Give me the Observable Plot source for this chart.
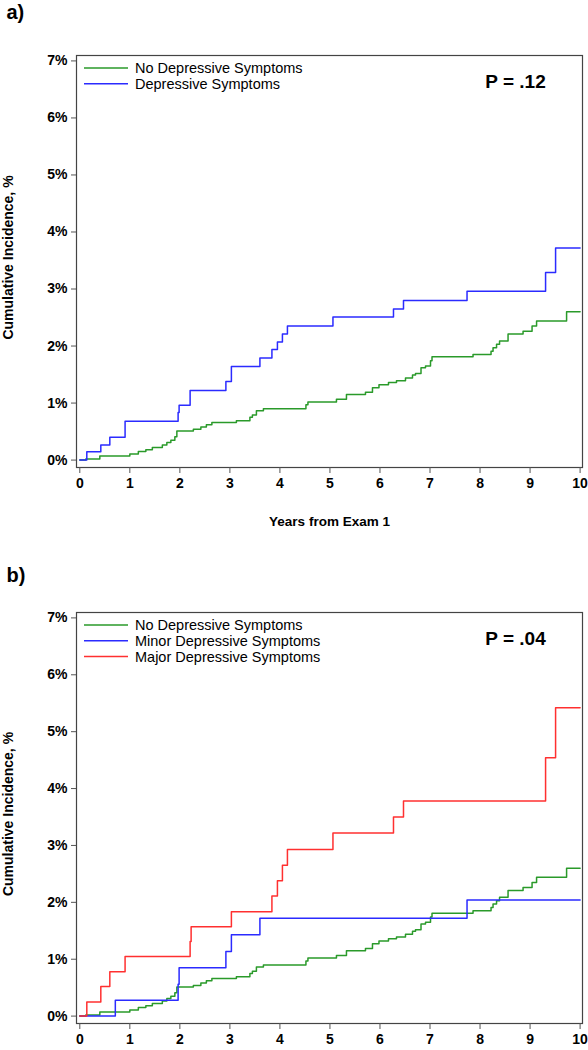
<!DOCTYPE html>
<html><head><meta charset="utf-8">
<script src="https://cdn.jsdelivr.net/npm/d3@7"></script>
<script src="https://cdn.jsdelivr.net/npm/@observablehq/plot@0.6"></script>
<style>
body{margin:0;background:#fff;}
svg{display:block;}
</style>
</head><body><div id="chart"></div>
<script>
// ---- data ----
const yearTicks = [0,1,2,3,4,5,6,7,8,9,10];
const pctTicks = [0,1,2,3,4,5,6,7];

// No depressive symptoms (same in both panels)
const noDepT = [0,0.12,0.40,1.0,1.17,1.32,1.45,1.65,1.74,1.82,1.9,1.94,2.27,2.42,2.53,2.64,3.13,3.4,3.45,3.53,3.67,4.52,4.56,5.13,5.33,5.71,5.85,5.98,6.17,6.33,6.51,6.65,6.71,6.82,6.91,7.01,7.04,7.86,8.22,8.26,8.33,8.39,8.56,8.86,9.04,9.13,9.73,10.0];
const noDepV = [0,0.02,0.07,0.106,0.15,0.18,0.22,0.265,0.31,0.35,0.41,0.51,0.54,0.58,0.62,0.66,0.69,0.75,0.79,0.865,0.9,0.97,1.02,1.065,1.15,1.19,1.27,1.32,1.36,1.39,1.44,1.49,1.52,1.62,1.65,1.74,1.81,1.85,1.91,1.97,2.03,2.09,2.21,2.26,2.35,2.44,2.6,2.6];

// Depressive symptoms (panel a)
const depT = [0,0.14,0.42,0.6,0.905,1.965,1.985,2.205,2.92,3.03,3.6,3.84,3.95,4.05,4.15,5.06,6.27,6.47,7.74,9.31,9.51,10.0];
const depV = [0,0.147,0.265,0.40,0.68,0.835,0.96,1.22,1.38,1.64,1.79,1.94,2.07,2.21,2.35,2.51,2.65,2.80,2.96,3.29,3.72,3.72];

// Minor depressive symptoms (panel b)
const minorT = [0,0.71,1.965,1.985,2.92,3.03,3.6,7.74,10.0];
const minorV = [0,0.28,0.56,0.85,1.135,1.43,1.72,2.04,2.04];

// Major depressive symptoms (panel b)
const majorT = [0,0.14,0.42,0.6,0.905,2.205,2.225,3.03,3.84,3.95,4.05,4.15,5.06,6.27,6.47,9.31,9.51,10.0];
const majorV = [0,0.25,0.52,0.78,1.05,1.31,1.57,1.835,2.11,2.38,2.65,2.93,3.22,3.50,3.78,4.54,5.42,5.42];

const GREEN = "#2a9a2a", BLUE = "#2b2bff", RED = "#ff3030";
const FONT = "'Liberation Sans', Arial, sans-serif";

const rows = (t, v) => t.map((x, i) => ({t: x, v: v[i]}));

function legendMark(items) {
  return (index, scales, values, dims) => {
    const g = d3.create("svg:g");
    items.forEach((it, i) => {
      const y = dims.marginTop + 13 + i * 15.8;
      g.append("line")
        .attr("x1", dims.marginLeft + 8).attr("x2", dims.marginLeft + 52)
        .attr("y1", y).attr("y2", y)
        .attr("stroke", it.color).attr("stroke-width", 1.5);
      g.append("text")
        .attr("x", dims.marginLeft + 59).attr("y", y).attr("dy", "0.36em")
        .attr("text-anchor", "start")
        .attr("font-family", FONT).attr("font-size", 14.5).attr("font-weight", "normal")
        .attr("fill", "#000")
        .text(it.label);
    });
    return g.node();
  };
}

function panel({label, labelDy, series, legend, pText, height, marginTop, marginBottom, xTitle}) {
  const marks = [
    Plot.frame({stroke: "#444", strokeWidth: 1.2}),
    Plot.axisX({ticks: yearTicks, tickSize: 6, tickPadding: 5, tickFormat: d => String(d),
      label: null, fontSize: 14, fontWeight: "bold", fill: "#000", stroke: "#555"}),
    Plot.axisY({ticks: pctTicks, tickSize: 5, tickPadding: 4, tickFormat: d => d + "%",
      label: null, fontSize: 14, fontWeight: "bold", fill: "#000", stroke: "#555"}),
    ...series.map(s => Plot.line(rows(s.t, s.v), {x: "t", y: "v", curve: "step-after", stroke: s.color, strokeWidth: 1.5})),
    legendMark(legend),
    Plot.text([pText], {frameAnchor: "top-right", textAnchor: "middle", lineAnchor: "middle", dx: -67, dy: 26,
      fontSize: 19, fontWeight: "bold", fill: "#000"}),
    Plot.text(["Cumulative Incidence, %"], {frameAnchor: "left", textAnchor: "middle", lineAnchor: "middle",
      rotate: -90, dx: -68, dy: -4,
      fontSize: 14, fontWeight: "bold", fill: "#000"}),
    Plot.text([label], {frameAnchor: "top-left", textAnchor: "start", lineAnchor: "middle", dx: -70, dy: labelDy,
      fontSize: 20, fontWeight: "bold", fill: "#000"})
  ];
  if (xTitle) {
    marks.push(Plot.text([xTitle], {frameAnchor: "bottom", dy: 58, fontSize: 13.5, fontWeight: "bold", fill: "#000"}));
  }
  return Plot.plot({
    width: 588,
    height,
    marginLeft: 76,
    marginRight: 6,
    marginTop,
    marginBottom,
    style: {fontFamily: FONT, background: "#fff"},
    x: {domain: [-0.066, 10.048]},
    y: {domain: [-0.13, 7.095]},
    marks
  });
}

const chart = document.getElementById("chart");
chart.append(panel({
  label: "a)", labelDy: -43,
  series: [
    {t: noDepT, v: noDepV, color: GREEN},
    {t: depT, v: depV, color: BLUE}
  ],
  legend: [
    {label: "No Depressive Symptoms", color: GREEN},
    {label: "Depressive Symptoms", color: BLUE}
  ],
  pText: "P = .12",
  height: 540, marginTop: 55, marginBottom: 73,
  xTitle: "Years from Exam 1"
}));
chart.append(panel({
  label: "b)", labelDy: -37,
  series: [
    {t: noDepT, v: noDepV, color: GREEN},
    {t: minorT, v: minorV, color: BLUE},
    {t: majorT, v: majorV, color: RED}
  ],
  legend: [
    {label: "No Depressive Symptoms", color: GREEN},
    {label: "Minor Depressive Symptoms", color: BLUE},
    {label: "Major Depressive Symptoms", color: RED}
  ],
  pText: "P = .04",
  height: 510, marginTop: 72, marginBottom: 27,
  xTitle: null
}));
</script>
</body></html>
